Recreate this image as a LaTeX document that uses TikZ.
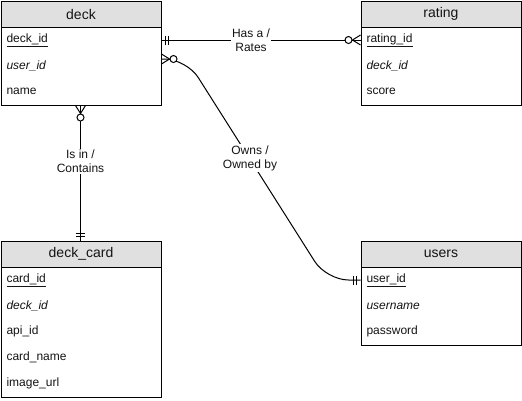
\documentclass[tikz,border=0pt]{standalone}
\usepackage{fontspec}
\setmainfont{Liberation Sans}
\usetikzlibrary{calc}
\definecolor{hdrgray}{RGB}{224,224,224}
\definecolor{ink}{RGB}{20,20,20}
\begin{document}
\begin{tikzpicture}[x=1pt,y=-1pt,line width=1pt,
  tablebox/.style={draw, line width=1pt, minimum width=160pt, inner sep=0pt, anchor=north west},
  headbox/.style={draw, line width=1pt, fill=hdrgray, minimum width=160pt, minimum height=26pt,
    inner sep=0pt, anchor=north west, text=ink, font=\fontsize{14}{16}\selectfont},
  field/.style={anchor=west, inner sep=0pt, text=ink, font=\fontsize{12}{14}\selectfont},
  rel/.style={draw, line width=1pt},
  rellabel/.style={fill=white, inner sep=1pt, align=center, text=ink, font=\fontsize{12}{14}\selectfont},
  mandone/.pic={\draw[line width=1pt] (4,-4.5)--(4,4.5) (7,-4.5)--(7,4.5);},
  zeromany/.pic={\draw[line width=1pt] (8,0)--(0,-5) (8,0)--(0,5);
    \draw[line width=1pt, fill=white] (12,0) circle (3.5);}
]
\useasboundingbox (0,0) rectangle (522,400);

% deck
\node[tablebox, minimum height=104pt] (deck) at (0.5,0.5) {};
\node[headbox] (deckh) at (0.5,0.5) {deck};
\node[field] (deckf1) at (6,40) {\underline{deck\_id}};
\node[field] (deckf2) at (6,66) {\textit{user\_id}};
\node[field] (deckf3) at (6,91) {name};

% rating
\node[tablebox, minimum height=104pt] (rating) at (360.5,0.5) {};
\node[headbox] (ratingh) at (360.5,0.5) {rating};
\node[field] (ratingf1) at (366,40) {\underline{rating\_id}};
\node[field] (ratingf2) at (366,66) {\textit{deck\_id}};
\node[field] (ratingf3) at (366,91) {score};

% users
\node[tablebox, minimum height=104pt] (users) at (360.5,240.5) {};
\node[headbox] (usersh) at (360.5,240.5) {users};
\node[field] (usersf1) at (366,280) {\underline{user\_id}};
\node[field] (usersf2) at (366,306) {\textit{username}};
\node[field] (usersf3) at (366,331) {password};

% deck_card
\node[tablebox, minimum height=156pt] (card) at (0.5,240.5) {};
\node[headbox] (cardh) at (0.5,240.5) {deck\_card};
\node[field] (cardf1) at (6,280) {\underline{card\_id}};
\node[field] (cardf2) at (6,306) {\textit{deck\_id}};
\node[field] (cardf3) at (6,331) {api\_id};
\node[field] (cardf4) at (6,357) {card\_name};
\node[field] (cardf5) at (6,383) {image\_url};

% connector end points
\coordinate (dr1) at ($(deck.north east)+(0,39.5)$);
\coordinate (rl1) at ($(rating.north west)+(0,39.5)$);
\coordinate (dr2) at ($(deck.north east)+(0,58.5)$);
\coordinate (ul1) at ($(users.north west)+(0,39.5)$);
\coordinate (db1) at ($(deck.south west)+(80,0)$);
\coordinate (ct1) at ($(card.north west)+(80,0)$);

% deck -- rating
\draw[rel] (dr1) -- node[rellabel, pos=0.45] (lblrate) {Has a /\\Rates} (rl1);
\pic at (dr1) {mandone};
\pic[rotate=180] at (rl1) {zeromany};

% deck -- users
\draw[rel, rounded corners=22pt] (dr2) -- ($(dr2)+(25,0)$) -- ($(ul1)+(-34,0)$) -- (ul1);
\node[rellabel] (lblown) at (250,158) {Owns /\\Owned by};
\pic at (dr2) {zeromany};
\pic[rotate=180] at (ul1) {mandone};

% deck -- deck_card
\draw[rel] (db1) -- node[rellabel, pos=0.415] (lblcard) {Is in /\\Contains} (ct1);
\pic[rotate=-90] at (db1) {zeromany};
\pic[rotate=90] at (ct1) {mandone};
\end{tikzpicture}
\end{document}
